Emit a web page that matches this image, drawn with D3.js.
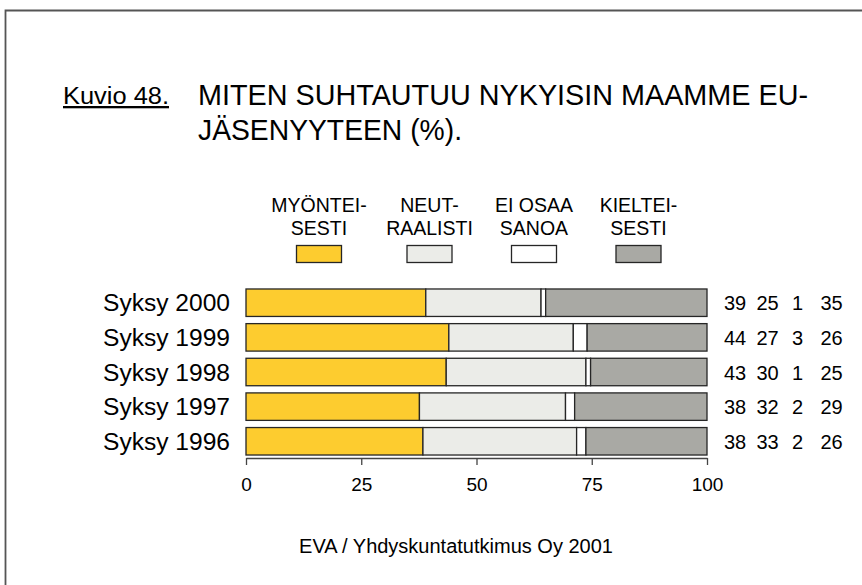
<!DOCTYPE html>
<html>
<head>
<meta charset="utf-8">
<script src="https://cdn.jsdelivr.net/npm/d3@7"></script>
<style>
  html, body { margin: 0; padding: 0; background: #fff; }
  svg { display: block; font-family: "Liberation Sans", Arial, Helvetica, sans-serif; }
</style>
</head>
<body>
<svg id="chart" width="862" height="585"></svg>
<script>
// Survey rounds, top to bottom
const rounds = ["Syksy 2000", "Syksy 1999", "Syksy 1998", "Syksy 1997", "Syksy 1996"];

// Answer shares (%) per round
const myonteisesti = [39, 44, 43, 38, 38];
const neutraalisti = [25, 27, 30, 32, 33];
const eiOsaaSanoa  = [1, 3, 1, 2, 2];
const kielteisesti = [35, 26, 25, 29, 26];

// Series keys, legend labels (two lines each) and fills
const seriesKeys = ["myonteisesti", "neutraalisti", "eiOsaaSanoa", "kielteisesti"];
const legendLabels = [["MYÖNTEI-", "SESTI"], ["NEUT-", "RAALISTI"], ["EI OSAA", "SANOA"], ["KIELTEI-", "SESTI"]];
const seriesColors = ["#FDCC2F", "#EBECE8", "#FFFFFF", "#A9A9A4"];

const axisTicks = [0, 25, 50, 75, 100];

const titleLabel = "Kuvio 48.";
const titleLines = ["MITEN SUHTAUTUU NYKYISIN MAAMME EU-", "JÄSENYYTEEN (%)."];
const sourceText = "EVA / Yhdyskuntatutkimus Oy 2001";

// Rows for the stack
const table = rounds.map((r, i) => ({
  round: r,
  myonteisesti: myonteisesti[i],
  neutraalisti: neutraalisti[i],
  eiOsaaSanoa: eiOsaaSanoa[i],
  kielteisesti: kielteisesti[i]
}));

const svg = d3.select("#chart");

// Page frame
svg.append("path")
  .attr("d", "M5.5,585 V10.5 H862")
  .attr("fill", "none")
  .attr("stroke", "#555")
  .attr("stroke-width", 1.8);

// Heading (slightly condensed via textLength)
const narrow = '"Liberation Sans Narrow", "Arial Narrow", "Liberation Sans", Arial, sans-serif';
svg.append("text")
  .attr("x", 63).attr("y", 104)
  .attr("font-family", narrow)
  .attr("font-size", 23)
  .attr("textLength", 106).attr("lengthAdjust", "spacingAndGlyphs")
  .attr("text-decoration", "underline")
  .text(titleLabel);

svg.selectAll("text.title")
  .data(titleLines)
  .join("text")
  .attr("class", "title")
  .attr("x", 198)
  .attr("y", (d, i) => 105 + i * 35)
  .attr("font-family", narrow)
  .attr("font-size", 30)
  .attr("textLength", (d, i) => i === 0 ? 610 : 264)
  .attr("lengthAdjust", "spacingAndGlyphs")
  .text(d => d);

// Scales
const x = d3.scaleLinear().domain([0, 100]).range([246, 707]);
const y = d3.scaleBand().domain(rounds).range([285.4, 458.6]).paddingInner(0.207).paddingOuter(0.1035);

// Normalised stack: every bar spans 0–100 %
const stacked = d3.stack().keys(seriesKeys).offset(d3.stackOffsetExpand)(table);

const color = d3.scaleOrdinal().domain(seriesKeys).range(seriesColors);

svg.append("g")
  .selectAll("g")
  .data(stacked)
  .join("g")
  .attr("fill", d => color(d.key))
  .selectAll("rect")
  .data(d => d)
  .join("rect")
  .attr("x", d => x(d[0] * 100))
  .attr("y", d => y(d.data.round))
  .attr("width", d => x(d[1] * 100) - x(d[0] * 100))
  .attr("height", y.bandwidth())
  .attr("stroke", "#262626")
  .attr("stroke-width", 1.3);

// Round labels
svg.append("g")
  .selectAll("text")
  .data(rounds)
  .join("text")
  .attr("x", 230)
  .attr("y", d => y(d) + y.bandwidth() / 2 + 8.5)
  .attr("text-anchor", "end")
  .attr("font-size", 23)
  .attr("textLength", 127).attr("lengthAdjust", "spacingAndGlyphs")
  .text(d => d);

// Value columns at the right
const valueCols = [735, 767.5, 797.5, 831.5];
const valueSeries = [myonteisesti, neutraalisti, eiOsaaSanoa, kielteisesti];
valueSeries.forEach((vals, k) => {
  svg.append("g")
    .selectAll("text")
    .data(vals)
    .join("text")
    .attr("x", valueCols[k])
    .attr("y", (d, i) => y(rounds[i]) + y.bandwidth() / 2 + 7.5)
    .attr("text-anchor", "middle")
    .attr("font-size", 20)
    .text(d => d);
});

// Legend
const legendX = [319, 429.5, 534, 638.5];
const legend = svg.append("g")
  .selectAll("g")
  .data(seriesKeys)
  .join("g")
  .attr("transform", (d, i) => `translate(${legendX[i]},0)`);

legend.append("text")
  .attr("text-anchor", "middle")
  .attr("font-size", 19.5)
  .selectAll("tspan")
  .data((d, i) => legendLabels[i])
  .join("tspan")
  .attr("x", 0)
  .attr("y", (d, j) => 212 + j * 23)
  .text(d => d);

legend.append("rect")
  .attr("x", -22.5).attr("y", 245.5)
  .attr("width", 45).attr("height", 17)
  .attr("fill", d => color(d))
  .attr("stroke", "#262626")
  .attr("stroke-width", 1.3);

// Bottom axis
const axis = svg.append("g")
  .attr("transform", "translate(0,458)")
  .call(d3.axisBottom(x).tickValues(axisTicks).tickSize(7).tickSizeOuter(0).tickPadding(13));
axis.select(".domain").attr("stroke", "#444").attr("stroke-width", 1.3);
axis.selectAll(".tick line").attr("stroke", "#444").attr("stroke-width", 1.3);
axis.selectAll(".tick text")
  .attr("font-family", '"Liberation Sans", Arial, sans-serif')
  .attr("font-size", 19)
  .attr("fill", "#000");

// Source line
svg.append("text")
  .attr("x", 456).attr("y", 553)
  .attr("text-anchor", "middle")
  .attr("font-size", 20)
  .text(sourceText);
</script>
</body>
</html>
